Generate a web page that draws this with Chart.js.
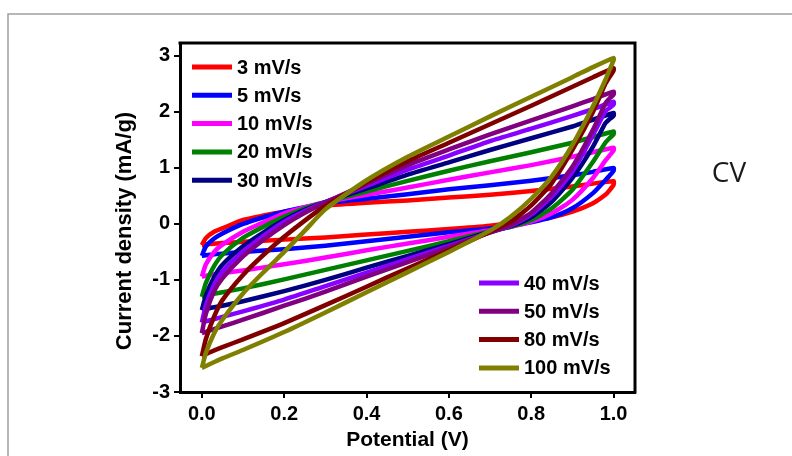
<!DOCTYPE html>
<html>
<head>
<meta charset="utf-8">
<script src="https://cdn.jsdelivr.net/npm/chart.js@4.4.0/dist/chart.umd.min.js"></script>
<style>
  html, body { margin: 0; padding: 0; background: #fff; }
</style>
</head>
<body>
<canvas id="cvChart" width="792" height="456"></canvas>
<script>
// scan rates and colours
const labels = ['3 mV/s', '5 mV/s', '10 mV/s', '20 mV/s', '30 mV/s', '40 mV/s', '50 mV/s', '80 mV/s', '100 mV/s'];
const colors = ['#FF0000', '#0000FF', '#FF00FF', '#008000', '#000080', '#8800FF', '#800080', '#800000', '#808000'];

// potential (V) for the forward and the reverse sweep
const sweepUp = [0, 0.01, 0.03, 0.05, 0.1, 0.15, 0.2, 0.25, 0.3, 0.4, 0.5, 0.6, 0.7, 0.8, 0.9, 0.95, 1.0];
const sweepDown = [1.0, 0.99, 0.98, 0.95, 0.9, 0.85, 0.8, 0.75, 0.7, 0.6, 0.5, 0.4, 0.3, 0.2, 0.1, 0.05, 0.02, 0];

// current density (mA/g)
const up3 = [-0.38, -0.25, -0.14, -0.08, 0.07, 0.15, 0.22, 0.28, 0.33, 0.38, 0.42, 0.47, 0.52, 0.59, 0.67, 0.72, 0.76];
const down3 = [0.70, 0.60, 0.52, 0.37, 0.22, 0.12, 0.06, 0.02, -0.03, -0.09, -0.14, -0.19, -0.24, -0.28, -0.32, -0.34, -0.36, -0.38];
const up5 = [-0.57, -0.40, -0.26, -0.17, 0.00, 0.12, 0.22, 0.30, 0.37, 0.45, 0.53, 0.62, 0.69, 0.77, 0.87, 0.93, 1.00];
const down5 = [0.95, 0.86, 0.78, 0.55, 0.28, 0.12, 0.03, -0.03, -0.08, -0.15, -0.23, -0.31, -0.39, -0.45, -0.50, -0.53, -0.55, -0.57];
const up10 = [-0.94, -0.72, -0.50, -0.37, -0.14, 0.03, 0.19, 0.30, 0.39, 0.52, 0.65, 0.79, 0.92, 1.05, 1.20, 1.28, 1.36];
const down10 = [1.31, 1.22, 1.13, 0.82, 0.43, 0.19, 0.04, -0.05, -0.11, -0.23, -0.35, -0.47, -0.60, -0.72, -0.83, -0.88, -0.91, -0.94];
const up20 = [-1.30, -1.05, -0.75, -0.55, -0.25, -0.05, 0.13, 0.28, 0.39, 0.58, 0.77, 0.95, 1.12, 1.28, 1.45, 1.55, 1.65];
const down20 = [1.60, 1.53, 1.45, 1.11, 0.61, 0.28, 0.07, -0.05, -0.13, -0.31, -0.48, -0.65, -0.82, -0.99, -1.15, -1.22, -1.26, -1.30];
const up30 = [-1.54, -1.28, -0.95, -0.73, -0.40, -0.15, 0.07, 0.25, 0.39, 0.63, 0.88, 1.10, 1.32, 1.53, 1.74, 1.86, 1.98];
const down30 = [1.93, 1.87, 1.80, 1.38, 0.82, 0.40, 0.12, -0.04, -0.14, -0.36, -0.57, -0.78, -1.00, -1.20, -1.38, -1.46, -1.50, -1.54];
const up40 = [-1.76, -1.45, -1.08, -0.85, -0.49, -0.21, 0.04, 0.23, 0.39, 0.68, 0.97, 1.22, 1.48, 1.70, 1.93, 2.05, 2.18];
const down40 = [2.13, 2.07, 2.01, 1.59, 0.93, 0.49, 0.17, -0.03, -0.15, -0.39, -0.63, -0.87, -1.11, -1.35, -1.56, -1.66, -1.72, -1.76];
const up50 = [-1.95, -1.60, -1.20, -0.97, -0.58, -0.28, -0.02, 0.20, 0.38, 0.72, 1.05, 1.33, 1.60, 1.85, 2.10, 2.23, 2.36];
const down50 = [2.31, 2.24, 2.15, 1.68, 1.02, 0.55, 0.20, -0.02, -0.15, -0.42, -0.68, -0.94, -1.21, -1.46, -1.71, -1.83, -1.90, -1.95];
const up80 = [-2.36, -2.05, -1.65, -1.36, -0.91, -0.55, -0.23, 0.06, 0.32, 0.74, 1.12, 1.45, 1.78, 2.11, 2.45, 2.62, 2.78];
const down80 = [2.74, 2.62, 2.50, 2.00, 1.32, 0.73, 0.33, 0.04, -0.14, -0.47, -0.79, -1.12, -1.45, -1.77, -2.06, -2.20, -2.29, -2.36];
const up100 = [-2.57, -2.30, -1.95, -1.71, -1.24, -0.86, -0.50, -0.12, 0.26, 0.78, 1.20, 1.56, 1.92, 2.27, 2.62, 2.80, 2.96];
const down100 = [2.92, 2.75, 2.57, 2.10, 1.41, 0.85, 0.45, 0.13, -0.12, -0.50, -0.86, -1.22, -1.58, -1.93, -2.25, -2.40, -2.50, -2.57];

const upCurves = [up3, up5, up10, up20, up30, up40, up50, up80, up100];
const downCurves = [down3, down5, down10, down20, down30, down40, down50, down80, down100];

// axis ticks
const xTicks = [0, 0.2, 0.4, 0.6, 0.8, 1.0];
const yTicks = [-3, -2, -1, 0, 1, 2, 3];

function loop(i) {
    const pts = sweepUp.map((v, k) => ({ x: v, y: upCurves[i][k] }));
    return pts.concat(sweepDown.map((v, k) => ({ x: v, y: downCurves[i][k] })));
}

const datasets = labels.map((lab, i) => ({
    label: lab,
    data: loop(i),
    borderColor: colors[i],
    backgroundColor: colors[i],
    borderWidth: 4.5,
    pointRadius: 0,
    showLine: true,
    tension: 0.2,
    fill: false,
    order: labels.length - i
}));

const boldFont = '"Liberation Sans", Arial, sans-serif';

const decor = {
    id: 'decor',
    beforeDraw(chart) {
        const ctx = chart.ctx;
        ctx.save();
        ctx.fillStyle = '#fff';
        ctx.fillRect(0, 0, chart.width, chart.height);
        // outer picture frame
        ctx.strokeStyle = '#a0a0a0';
        ctx.lineWidth = 1.5;
        ctx.beginPath();
        ctx.moveTo(8, chart.height);
        ctx.lineTo(8, 14);
        ctx.lineTo(chart.width, 14);
        ctx.stroke();
        ctx.restore();
    },
    afterDraw(chart) {
        const ctx = chart.ctx;
        const a = chart.chartArea;
        ctx.save();
        // top and right side of the plot box
        ctx.strokeStyle = '#000';
        ctx.lineWidth = 3;
        ctx.beginPath();
        ctx.moveTo(a.left - 1.5, a.top);
        ctx.lineTo(a.right, a.top);
        ctx.lineTo(a.right, a.bottom + 1.5);
        ctx.stroke();

        // legends, split in two blocks
        ctx.font = 'bold 20px ' + boldFont;
        ctx.textBaseline = 'middle';
        ctx.fillStyle = '#000';
        chart.data.datasets.forEach((ds, i) => {
            let x0, y0;
            if (i < 5) {
                x0 = a.left + 12;
                y0 = a.top + 24 + i * 28.3;
            } else {
                x0 = a.left + 299;
                y0 = a.top + 240 + (i - 5) * 28.3;
            }
            ctx.strokeStyle = ds.borderColor;
            ctx.lineWidth = 5;
            ctx.beginPath();
            ctx.moveTo(x0, y0);
            ctx.lineTo(x0 + 40, y0);
            ctx.stroke();
            ctx.fillText(ds.label, x0 + 45, y0 + 1);
        });

        // axis titles
        ctx.font = 'bold 21px ' + boldFont;
        ctx.textAlign = 'center';
        ctx.fillText('Potential (V)', (a.left + a.right) / 2, 440);
        ctx.save();
        ctx.translate(125, 231);
        ctx.rotate(-Math.PI / 2);
        ctx.font = 'bold 22px ' + boldFont;
        ctx.fillText('Current density (mA/g)', 0, 0);
        ctx.restore();

        // side label
        ctx.font = '28px "Open Sans", "DejaVu Sans", sans-serif';
        ctx.fillStyle = '#1a1a1a';
        ctx.fillText('CV', 729, 174);
        ctx.restore();
    }
};

const ctx = document.getElementById('cvChart').getContext('2d');
const cvChart = new Chart(ctx, {
    type: 'scatter',
    data: { datasets: datasets },
    options: {
        responsive: false,
        animation: false,
        layout: { padding: { top: 43, right: 157, bottom: 0, left: 0 } },
        plugins: {
            legend: { display: false },
            tooltip: { enabled: false }
        },
        scales: {
            x: {
                type: 'linear',
                min: -0.053,
                max: 1.052,
                afterBuildTicks: (s) => { s.ticks = xTicks.map(v => ({ value: v })); },
                afterFit: (s) => { s.height = 64; },
                ticks: {
                    color: '#000',
                    padding: 4,
                    font: { family: boldFont, size: 20, weight: 'bold' },
                    callback: (v) => Number(v).toFixed(1)
                },
                grid: { display: true, drawOnChartArea: false, drawTicks: true, tickLength: 6, color: '#000', lineWidth: 2 },
                border: { display: true, color: '#000', width: 3 }
            },
            y: {
                type: 'linear',
                min: -3,
                max: 3.23,
                afterBuildTicks: (s) => { s.ticks = yTicks.map(v => ({ value: v })); },
                afterFit: (s) => { s.width = 180; },
                ticks: {
                    color: '#000',
                    padding: 4,
                    font: { family: boldFont, size: 20, weight: 'bold' },
                    callback: (v) => String(v)
                },
                grid: { display: true, drawOnChartArea: false, drawTicks: true, tickLength: 6, color: '#000', lineWidth: 2 },
                border: { display: true, color: '#000', width: 3 }
            }
        }
    },
    plugins: [decor]
});
</script>
</body>
</html>
